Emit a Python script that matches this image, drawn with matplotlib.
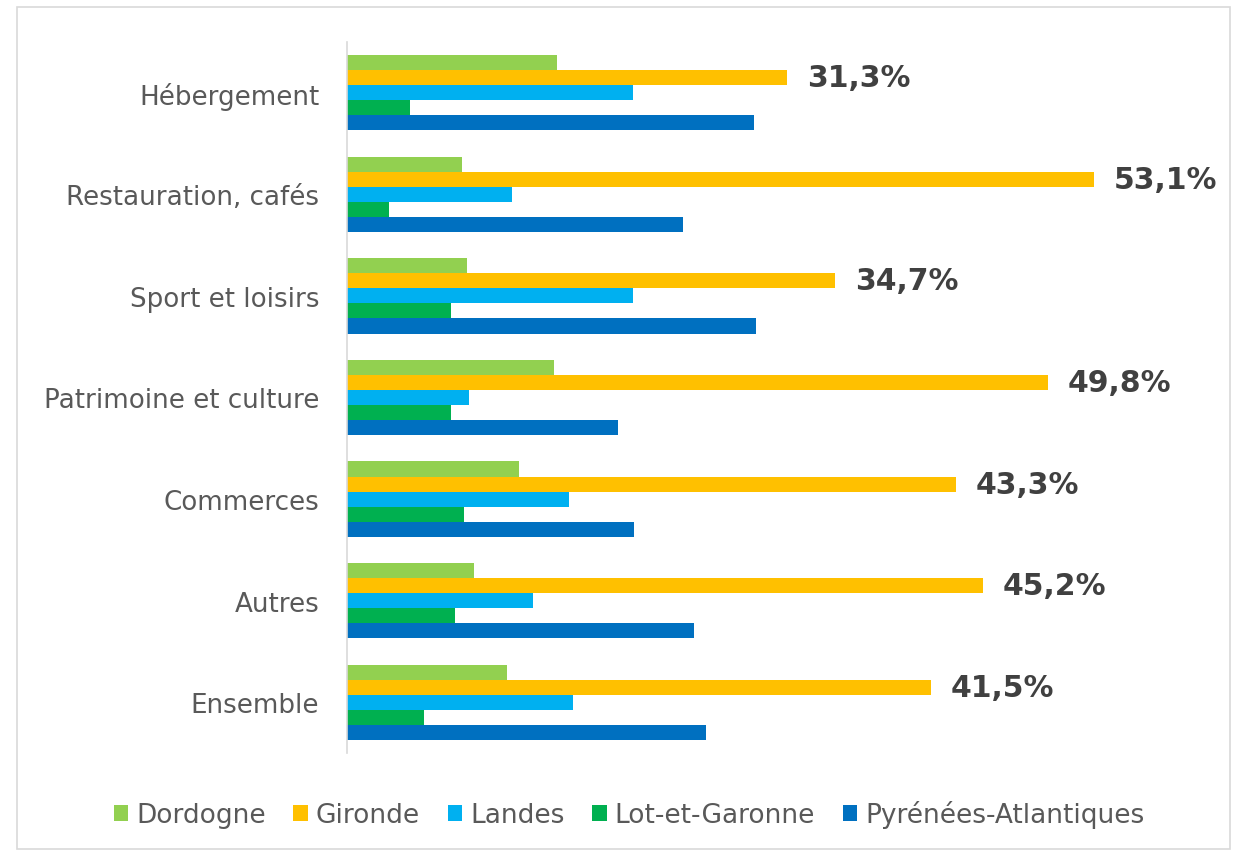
import matplotlib
matplotlib.use("Agg")
import matplotlib.pyplot as plt
from matplotlib.patches import Rectangle
import numpy as np

categories = ["Hébergement", "Restauration, cafés", "Sport et loisirs",
              "Patrimoine et culture", "Commerces", "Autres", "Ensemble"]
series_names = ["Dordogne", "Gironde", "Landes", "Lot-et-Garonne", "Pyrénées-Atlantiques"]
dordogne = [14.9, 8.2, 8.5, 14.7, 12.2, 9.0, 11.4]
gironde = [31.3, 53.1, 34.7, 49.8, 43.3, 45.2, 41.5]
landes = [20.3, 11.7, 20.3, 8.7, 15.8, 13.2, 16.1]
lot_et_garonne = [4.5, 3.0, 7.4, 7.4, 8.3, 7.7, 5.5]
pyrenees_atl = [28.9, 23.9, 29.1, 19.3, 20.4, 24.7, 25.5]
gironde_labels = ["31,3%", "53,1%", "34,7%", "49,8%", "43,3%", "45,2%", "41,5%"]

colors = ["#92D050", "#FFC000", "#00B0F0", "#00B050", "#0070C0"]
series = [dordogne, gironde, landes, lot_et_garonne, pyrenees_atl]

fig = plt.figure(figsize=(12.38, 8.54), dpi=100)
ax = fig.add_axes([347/1238, 1-754/854, (1191-347)/1238, (754-43)/854])

y = np.arange(len(categories))
h = 0.148
for i, (vals, c) in enumerate(zip(series, colors)):
    offs = (i - 2) * h
    ax.barh(y + offs, vals, height=h, color=c, label=series_names[i])

for yi, v, lab in zip(y, gironde, gironde_labels):
    ax.text(v + 1.4, yi - h, lab, va="center", ha="left", fontsize=21.5,
            fontweight="bold", color="#404040")

ax.set_xlim(0, 60)
ax.set_ylim(len(categories) - 0.5, -0.5)
ax.set_yticks(y)
ax.set_yticklabels(categories, fontsize=18.8, color="#595959")
ax.tick_params(axis="y", length=0, pad=20)
for t in ax.get_yticklabels():
    t.set_verticalalignment("center_baseline")
ax.set_xticks([])
for s in ["top", "right", "bottom"]:
    ax.spines[s].set_visible(False)
ax.spines["left"].set_color("#d9d9d9")
ax.spines["left"].set_linewidth(1.2)

leg = fig.legend(loc="center", bbox_to_anchor=(629/1238, 1-815/854), ncol=5,
                 frameon=False, fontsize=19, handlelength=0.55, handleheight=0.55,
                 handletextpad=0.3, columnspacing=1.05, labelcolor="#595959")

fig.patches.append(Rectangle((17/1238, 1-850/854), (1230-17)/1238, (850-8)/854,
                             transform=fig.transFigure, fill=False,
                             edgecolor="#d9d9d9", linewidth=1.2))
fig.savefig("out.png", dpi=100, facecolor="white")
